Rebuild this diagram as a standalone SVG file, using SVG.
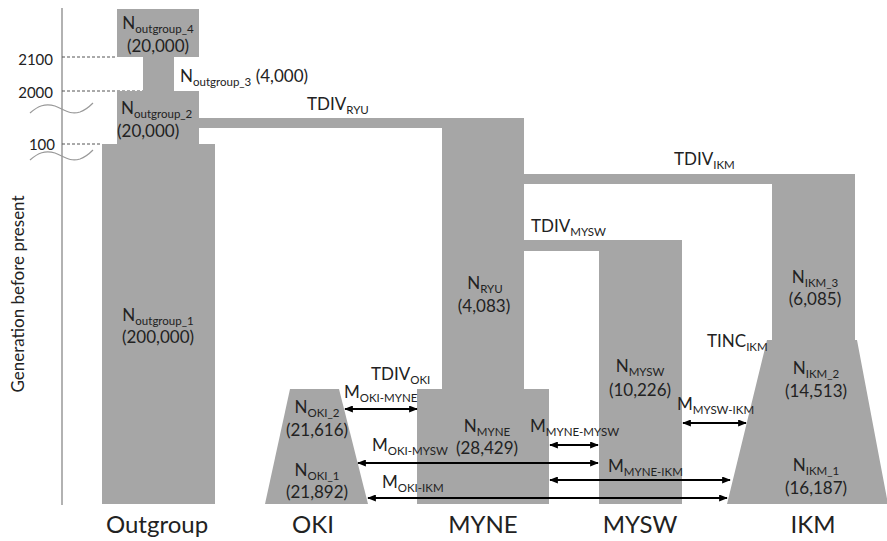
<svg xmlns="http://www.w3.org/2000/svg" width="887" height="541" viewBox="0 0 887 541">
<style>
.pop{fill:#a6a6a6}
text{font-family:Lato,"Liberation Sans",sans-serif;fill:#222;font-size:17px}
.s{font-size:11.5px}
.c{text-anchor:middle}
.col{font-size:24px;text-anchor:middle}
.ax{font-size:15px;text-anchor:end}
.dash{stroke:#555;stroke-width:1;stroke-dasharray:3 2;fill:none}
.wave{stroke:#999;stroke-width:1.2;fill:none}
.arr{stroke:#000;stroke-width:2;fill:none;marker-start:url(#ah);marker-end:url(#ah)}
</style>
<defs>
<marker id="ah" viewBox="0 0 10 8" refX="9" refY="4" markerWidth="9" markerHeight="7" markerUnits="userSpaceOnUse" orient="auto-start-reverse">
<path d="M0,0 L10,4 L0,8 Z" fill="#000"/>
</marker>
</defs>
<rect width="887" height="541" fill="#fff"/>
<g id="axis">
<line x1="62" y1="8" x2="62" y2="505" stroke="#999" stroke-width="1.5"/>
<line class="dash" x1="62" y1="57" x2="117" y2="57"/>
<line class="dash" x1="62" y1="91" x2="143" y2="91"/>
<line class="dash" x1="62" y1="144" x2="102" y2="144"/>
<path class="wave" d="M30,113 C38,106 45,103 55,106 C65,110 70,115 80,112 C86,110 90,106 93,103"/>
<path class="wave" d="M30,160 C38,153 45,150 55,153 C65,157 70,162 80,159 C86,157 90,153 93,150"/>
<text class="ax" x="53" y="65">2100</text>
<text class="ax" x="53" y="98">2000</text>
<text class="ax" x="55" y="150">100</text>
<text transform="translate(24,294) rotate(-90)" text-anchor="middle" font-size="13.5">Generation before present</text>
</g>
<g id="outgroup">
<path class="pop" d="M117,9 H199 V57 H174 V91 H199 V144 H215 V504 H102 V144 H117 V91 H143 V57 H117 Z"/>
<text class="c" x="158" y="29">N<tspan class="s" dy="3.5">outgroup_4</tspan></text>
<text class="c" x="158" y="52">(20,000)</text>
<text x="180" y="82">N<tspan class="s" dy="3.5">outgroup_3</tspan><tspan dy="-3.5"> (4,000)</tspan></text>
<text x="121" y="114">N<tspan class="s" dy="3.5">outgroup_2</tspan></text>
<text x="117" y="137">(20,000)</text>
<text class="c" x="158" y="321">N<tspan class="s" dy="3.5">outgroup_1</tspan></text>
<text class="c" x="158" y="343">(200,000)</text>
<text class="col" x="157" y="533">Outgroup</text>
</g>
<g id="myne">
<path class="pop" d="M199,118 H524 V389 H549 V504 H417 V389 H442 V128 H199 Z"/>
<text x="307" y="110">TDIV<tspan class="s" dy="3.5">RYU</tspan></text>
<text class="c" x="485" y="289">N<tspan class="s" dy="3.5">RYU</tspan></text>
<text class="c" x="484" y="312">(4,083)</text>
<text class="c" x="487" y="432">N<tspan class="s" dy="3.5">MYNE</tspan></text>
<text class="c" x="487" y="454">(28,429)</text>
<text class="col" x="483" y="533">MYNE</text>
</g>
<g id="oki">
<path class="pop" d="M290,389 H339 L368,504 H265 Z"/>
<text x="371" y="380">TDIV<tspan class="s" dy="3.5">OKI</tspan></text>
<text class="c" x="317" y="413">N<tspan class="s" dy="3.5">OKI_2</tspan></text>
<text class="c" x="317" y="436">(21,616)</text>
<text class="c" x="317" y="476">N<tspan class="s" dy="3.5">OKI_1</tspan></text>
<text class="c" x="317" y="498">(21,892)</text>
<text class="col" x="313" y="533">OKI</text>
</g>
<g id="mysw">
<path class="pop" d="M524,240 H682 V504 H599 V251 H524 Z"/>
<text x="531" y="232">TDIV<tspan class="s" dy="3.5">MYSW</tspan></text>
<text class="c" x="640" y="372">N<tspan class="s" dy="3.5">MYSW</tspan></text>
<text class="c" x="640" y="396">(10,226)</text>
<text class="col" x="640" y="533">MYSW</text>
</g>
<g id="ikm">
<path class="pop" d="M524,174 H855 V340 H857 L888,504 H727 L767,340 H772 V184 H524 Z"/>
<text x="674" y="165">TDIV<tspan class="s" dy="3.5">IKM</tspan></text>
<text class="c" x="815" y="283">N<tspan class="s" dy="3.5">IKM_3</tspan></text>
<text class="c" x="815" y="305">(6,085)</text>
<text x="707" y="347">TINC<tspan class="s" dy="3.5">IKM</tspan></text>
<text class="c" x="816" y="374">N<tspan class="s" dy="3.5">IKM_2</tspan></text>
<text class="c" x="816" y="397">(14,513)</text>
<text class="c" x="816" y="471">N<tspan class="s" dy="3.5">IKM_1</tspan></text>
<text class="c" x="816" y="494">(16,187)</text>
<text class="col" x="813" y="533">IKM</text>
</g>
<g id="connectors">
<line class="arr" x1="345" y1="409" x2="417" y2="409"/>
<line class="arr" x1="358" y1="463" x2="598" y2="463"/>
<line class="arr" x1="368" y1="498" x2="727" y2="498"/>
<line class="arr" x1="550" y1="445" x2="598" y2="445"/>
<line class="arr" x1="550" y1="480" x2="730" y2="480"/>
<line class="arr" x1="683" y1="423" x2="746" y2="423"/>
<text x="344" y="398">M<tspan class="s" dy="3.5">OKI-MYNE</tspan></text>
<text x="372" y="451">M<tspan class="s" dy="3.5">OKI-MYSW</tspan></text>
<text x="382" y="488">M<tspan class="s" dy="3.5">OKI-IKM</tspan></text>
<text x="530" y="432">M<tspan class="s" dy="3.5">MYNE-MYSW</tspan></text>
<text x="608" y="472">M<tspan class="s" dy="3.5">MYNE-IKM</tspan></text>
<text x="677" y="410">M<tspan class="s" dy="3.5">MYSW-IKM</tspan></text>
</g>
</svg>
